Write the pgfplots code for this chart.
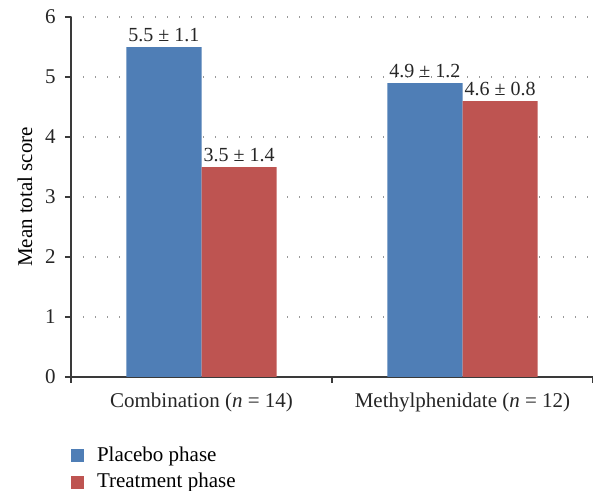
\documentclass[border=0pt]{standalone}
\usepackage{pgfplots}
\pgfplotsset{compat=1.18}
\usepackage{fontspec}
\setmainfont{Liberation Serif}

\definecolor{placebo}{HTML}{4F7EB6}
\definecolor{treat}{HTML}{BE5451}
\definecolor{axisgray}{HTML}{3A3A3A}

\begin{document}
\fontsize{10.5pt}{12.5pt}\selectfont
\begin{tikzpicture}
\begin{axis}[
    scale only axis,
    width=261pt, height=180pt,
    xmin=-0.5, xmax=1.5,
    ymin=0, ymax=6,
    axis lines=left,
    axis line style={-, axisgray, line width=0.6pt},
    tick align=outside,
    tick style={axisgray, line width=0.6pt},
    major tick length=3pt,
    minor tick length=3pt,
    ytick={0,1,2,3,4,5,6},
    xtick={0,1},
    xticklabels={Combination (\textit{n} = 14), Methylphenidate (\textit{n} = 12)},
    major x tick style={draw=none},
    minor xtick={-0.5,0.5,1.5},
    ymajorgrids,
    grid style={gray!80, line width=0.7pt, dash pattern=on 0.7pt off 5.3pt},
    /pgf/number format/assume math mode=true,
    tick label style={font=\fontsize{10.5pt}{12pt}\selectfont, text=black!85},
    yticklabel style={xshift=-1pt},
    xticklabel style={yshift=-1.5pt},
    ylabel={Mean total score},
    ylabel style={at={(axis description cs:-0.088,0.5)}, anchor=center,
        font=\fontsize{10.5pt}{12pt}\selectfont},
    ybar=0pt,
    bar width=37.6pt,
    nodes near coords={\pgfplotspointmeta},
    point meta=explicit symbolic,
    every node near coord/.append style={font=\fontsize{10pt}{12pt}\selectfont, text=black!85, anchor=south, inner sep=2.5pt},
    legend style={at={(rel axis cs:0,-0.182)}, anchor=north west, draw=none,
        inner sep=0pt, outer sep=0pt,
        font=\fontsize{10.5pt}{12pt}\selectfont, row sep=0.5pt,
        /tikz/every odd column/.append style={column sep=4.5pt}},
    legend cell align=left,
    legend image code/.code={\fill[#1] (0pt,-3.25pt) rectangle (6.5pt,3.25pt);},
]
\addplot[fill=placebo, draw=none]
    coordinates {(0,5.5) [5.5 ± 1.1] (1,4.9) [4.9 ± 1.2]};
\addlegendentry{Placebo phase}
\addplot[fill=treat, draw=none]
    coordinates {(0,3.5) [3.5 ± 1.4] (1,4.6) [4.6 ± 0.8]};
\addlegendentry{Treatment phase}
\end{axis}
\pgfresetboundingbox
\path ([shift={(-35.5pt,-57pt)}]current axis.south west)
    rectangle ([shift={(0pt,8.5pt)}]current axis.north east);
\end{tikzpicture}
\end{document}
